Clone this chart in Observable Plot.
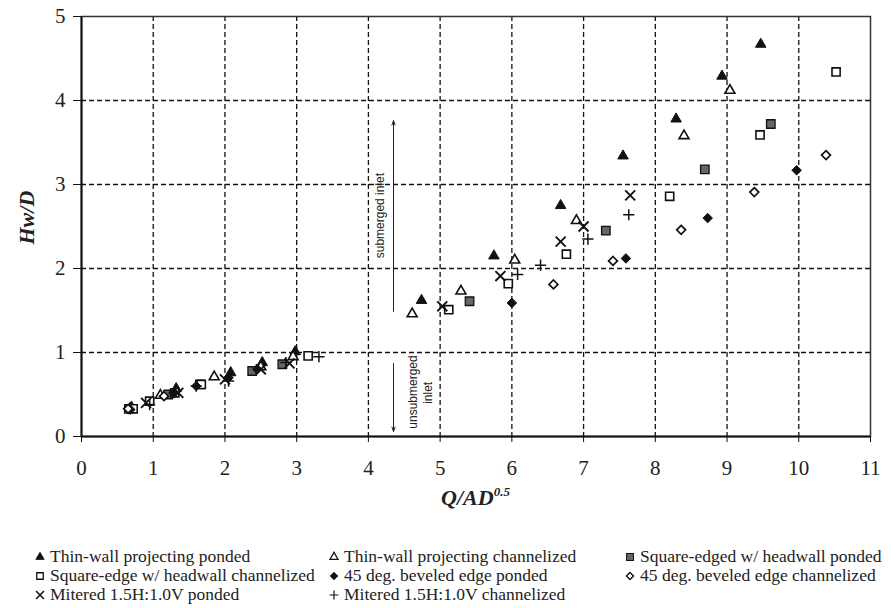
<!DOCTYPE html>
<html><head><meta charset="utf-8">
<script src="https://cdn.jsdelivr.net/npm/d3@7"></script>
<script src="https://cdn.jsdelivr.net/npm/@observablehq/plot@0.6"></script>
<style>
body{margin:0;background:#fff;font-family:"Liberation Serif","Times New Roman",serif;overflow:hidden;}
#chart svg{display:block}
#legend{position:relative;height:88px;width:891px;}
.item{position:absolute;font-size:17.5px;line-height:19px;white-space:nowrap;display:flex;align-items:center;color:#222;}
.item svg{margin-right:5px;overflow:visible}
</style></head><body><div id="chart"></div><div id="legend"></div>
<script>
// ---- data ----
const seriesNames = [
  "Thin-wall projecting ponded",
  "Thin-wall projecting channelized",
  "Square-edged w/ headwall ponded",
  "Square-edge w/ headwall channelized",
  "45 deg. beveled edge ponded",
  "45 deg. beveled edge channelized",
  "Mitered 1.5H:1.0V ponded",
  "Mitered 1.5H:1.0V channelized"
];
const thinPondedX = [0.68, 1.32, 2.08, 2.52, 2.98, 4.74, 5.75, 6.68, 7.55, 8.29, 8.93, 9.47];
const thinPondedY = [0.34, 0.57, 0.76, 0.88, 1.01, 1.62, 2.15, 2.75, 3.34, 3.78, 4.29, 4.67];
const thinChanX = [0.70, 1.10, 1.85, 2.50, 2.95, 4.61, 5.29, 6.04, 6.90, 8.40, 9.04];
const thinChanY = [0.34, 0.49, 0.71, 0.83, 0.95, 1.46, 1.73, 2.10, 2.57, 3.58, 4.12];
const sqPondedX = [0.66, 1.21, 1.65, 2.38, 2.80, 5.41, 7.31, 8.69, 9.61];
const sqPondedY = [0.33, 0.50, 0.62, 0.78, 0.86, 1.61, 2.45, 3.18, 3.72];
const sqChanX = [0.72, 0.95, 1.30, 1.67, 3.16, 5.12, 5.95, 6.76, 8.20, 9.46, 10.52];
const sqChanY = [0.33, 0.42, 0.52, 0.62, 0.96, 1.51, 1.82, 2.17, 2.86, 3.59, 4.34];
const bevPondedX = [0.68, 1.28, 1.60, 2.05, 2.45, 6.00, 7.59, 8.73, 9.97];
const bevPondedY = [0.32, 0.52, 0.60, 0.70, 0.80, 1.59, 2.12, 2.60, 3.17];
const bevChanX = [0.65, 1.15, 6.58, 7.41, 8.36, 9.38, 10.38];
const bevChanY = [0.33, 0.48, 1.81, 2.09, 2.46, 2.91, 3.35];
const mitPondedX = [0.90, 1.35, 2.00, 2.50, 2.90, 5.03, 5.84, 6.68, 7.00, 7.65];
const mitPondedY = [0.40, 0.52, 0.68, 0.80, 0.87, 1.55, 1.91, 2.32, 2.50, 2.87];
const mitChanX = [0.95, 1.60, 2.05, 2.85, 3.31, 6.08, 6.40, 7.06, 7.63];
const mitChanY = [0.38, 0.60, 0.66, 0.88, 0.95, 1.93, 2.04, 2.35, 2.64];
const xTicks = [0, 1, 2, 3, 4, 5, 6, 7, 8, 9, 10, 11];
const yTicks = [0, 1, 2, 3, 4, 5];
const xGrid = [1, 2, 3, 4, 5, 6, 7, 8, 9, 10];
const yGrid = [1, 2, 3, 4];
const annotationLabels = ["submerged inlet", "unsubmerged", "inlet"];
const annotationX = [4.17, 4.63, 4.83];
const annotationY = [2.63, 0.53, 0.52];
const arrowX = [4.35, 4.35];
const arrowY1 = [1.49, 0.87];
const arrowY2 = [3.76, 0.06];

const seriesX = [thinPondedX, thinChanX, sqPondedX, sqChanX, bevPondedX, bevChanX, mitPondedX, mitChanX];
const seriesY = [thinPondedY, thinChanY, sqPondedY, sqChanY, bevPondedY, bevChanY, mitPondedY, mitChanY];

// styles per series
const styles = [
  {symbol: "triangle", r: 3.9, fill: "#111", stroke: "#111", strokeWidth: 1},
  {symbol: "triangle", r: 3.7, fill: "white", stroke: "#111", strokeWidth: 1.6},
  {symbol: "square", r: 4.8, fill: "#666", stroke: "#111", strokeWidth: 1.3},
  {symbol: "square", r: 4.6, fill: "white", stroke: "#111", strokeWidth: 1.6},
  {symbol: "diamond2", r: 4.3, fill: "#111", stroke: "#111", strokeWidth: 1},
  {symbol: "diamond2", r: 4.0, fill: "white", stroke: "#111", strokeWidth: 1.7},
  {symbol: "times", r: 4.6, fill: "none", stroke: "#111", strokeWidth: 1.9},
  {symbol: "plus", r: 3.7, fill: "none", stroke: "#111", strokeWidth: 1.5}
];

const pointSets = seriesNames.map((name, i) =>
  seriesX[i].map((x, j) => ({series: name, x, y: seriesY[i][j]})));

const annots = annotationLabels.map((t, i) => ({t, x: annotationX[i], y: annotationY[i]}));
const arrows = arrowX.map((x, i) => ({x, y1: arrowY1[i], y2: arrowY2[i]}));

const W = 891, H = 520;
const plot = Plot.plot({
  width: W, height: H,
  marginLeft: 81, marginRight: 21, marginTop: 16, marginBottom: 84,
  style: {fontFamily: "'Liberation Serif', 'Times New Roman', serif", background: "white", color: "#222"},
  x: {domain: [0, 11]},
  y: {domain: [0, 5]},
  marks: [
    Plot.ruleX(xGrid, {stroke: "#111", strokeWidth: 1.3, strokeDasharray: "5,3"}),
    Plot.ruleY(yGrid, {stroke: "#111", strokeWidth: 1.3, strokeDasharray: "5,3"}),
    Plot.frame({stroke: "#333", strokeWidth: 1.5}),
    Plot.ruleX([0], {stroke: "#111", strokeWidth: 2}),
    Plot.ruleY([0], {stroke: "#111", strokeWidth: 2}),
    Plot.axisY({ticks: yTicks, tickSize: 8, tickPadding: 8, fontSize: 21, label: null, tickFormat: d => String(d), stroke: "#111"}),
    Plot.axisX({ticks: xTicks, tickSize: 6, tickPadding: 18, fontSize: 21, label: null, tickFormat: d => String(d), stroke: "#111"}),
    Plot.arrow(arrows, {x1: "x", x2: "x", y1: "y1", y2: "y2", stroke: "#222", strokeWidth: 1, headLength: 7, headAngle: 40}),
    Plot.text(annots, {x: "x", y: "y", text: "t", rotate: -90, fontSize: 12, fill: "#222",
      fontFamily: "'Liberation Sans Narrow', 'Liberation Sans', Arial, sans-serif"}),
    ...pointSets.map((pts, i) => Plot.dot(pts, {x: "x", y: "y", ...styles[i]}))
  ]
});
document.getElementById("chart").appendChild(plot);

// axis titles
const sx = plot.scale("x"), sy = plot.scale("y");
const svg = d3.select(plot);
svg.append("text")
  .attr("transform", `translate(29,${sy.apply(2.6)}) rotate(-90)`)
  .attr("text-anchor", "middle").attr("dominant-baseline", "middle")
  .attr("font-size", 22).attr("font-weight", "bold").attr("font-style", "italic")
  .attr("fill", "#222").text("Hw/D");
const xt = svg.append("text")
  .attr("x", (sx.apply(0) + sx.apply(11)) / 2).attr("y", 505)
  .attr("text-anchor", "middle")
  .attr("font-size", 22).attr("font-weight", "bold").attr("font-style", "italic")
  .attr("fill", "#222");
xt.append("tspan").text("Q/AD");
xt.append("tspan").attr("font-size", 13).attr("dy", -9).text("0.5");

// legend
const legend = document.getElementById("legend");
const colX = [35, 329, 625];
const rowY = [27, 46, 65];
const symMap = {triangle: d3.symbolTriangle, square: d3.symbolSquare, diamond2: d3.symbolDiamond2, times: d3.symbolTimes, plus: d3.symbolPlus};
seriesNames.forEach((name, i) => {
  const div = document.createElement("div");
  div.className = "item";
  div.style.left = colX[i % 3] + "px";
  div.style.top = rowY[Math.floor(i / 3)] + "px";
  const st = styles[i];
  const size = Math.PI * (st.r * 0.8) ** 2;
  const path = d3.symbol(symMap[st.symbol], size)();
  div.innerHTML = `<svg width="10" height="10" viewBox="-5 -5 10 10"><path d="${path}" fill="${st.fill}" stroke="${st.stroke}" stroke-width="${st.strokeWidth * 0.8}"/></svg><span>${name}</span>`;
  legend.appendChild(div);
});
</script></body></html>
